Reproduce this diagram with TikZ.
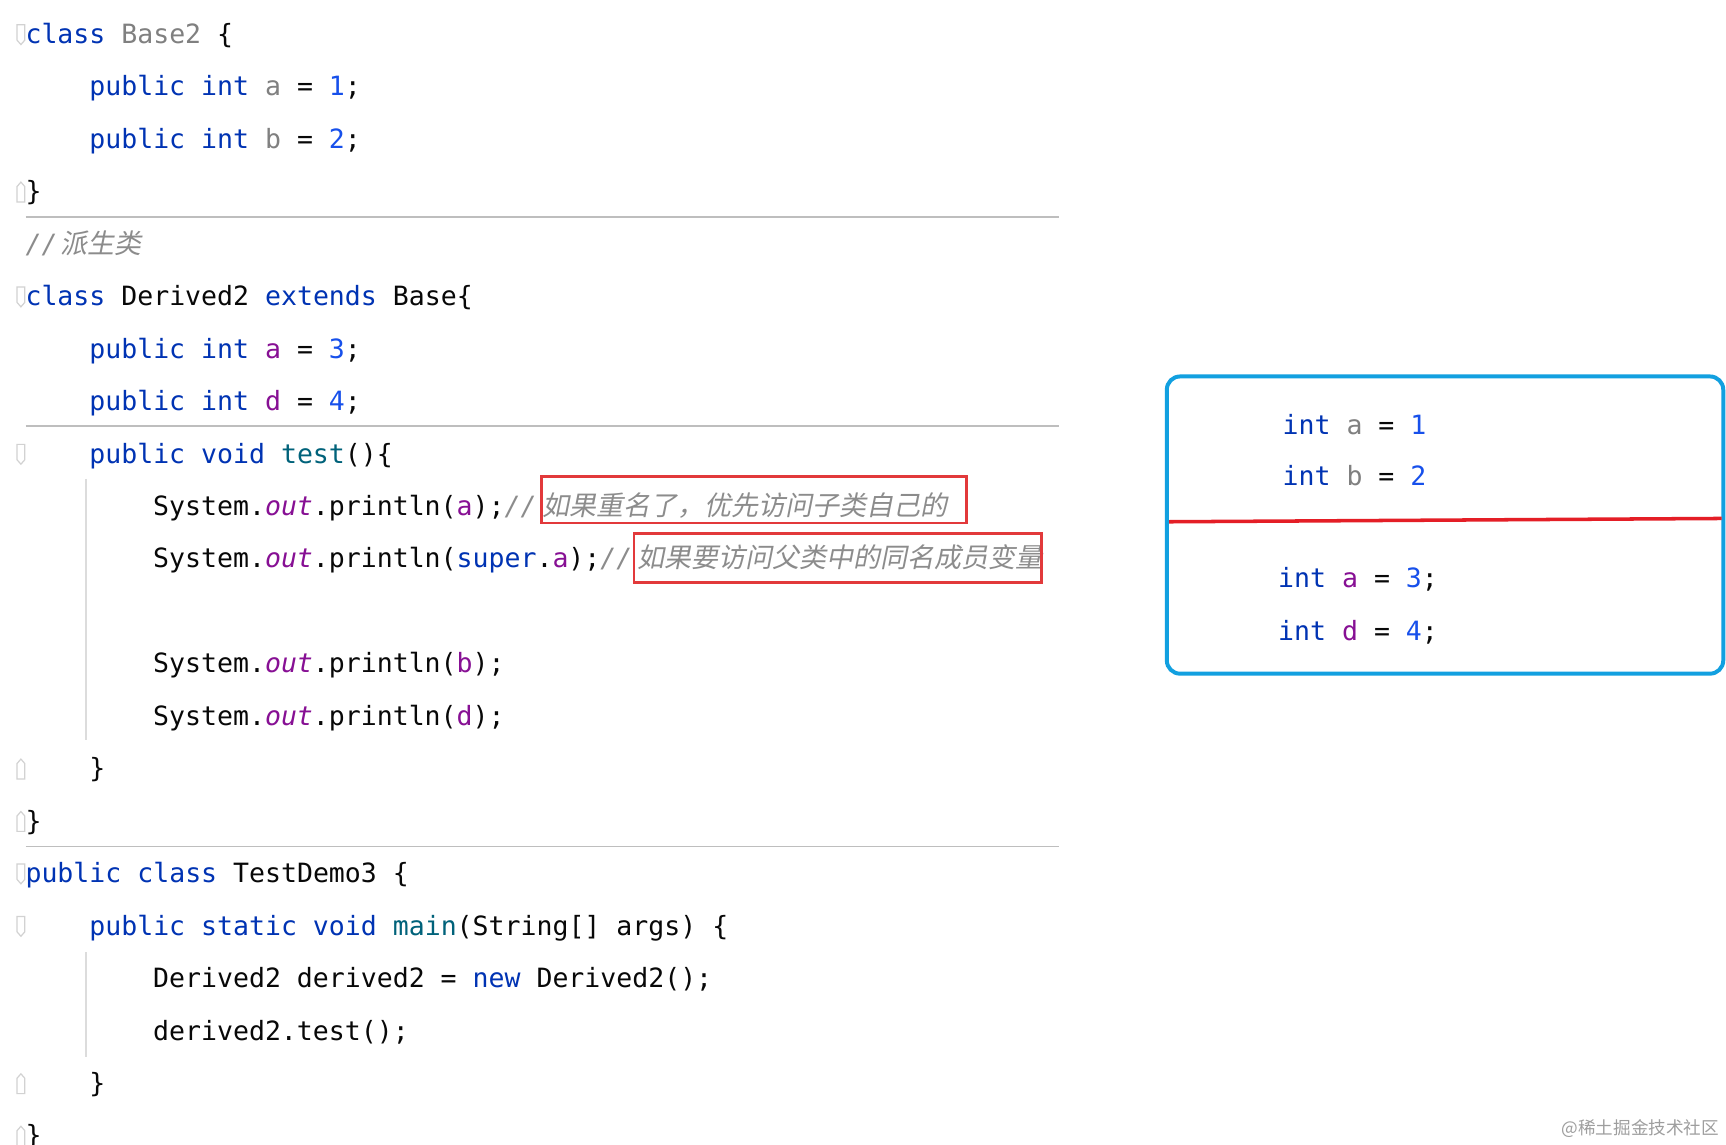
\documentclass[tikz,border=0pt]{standalone}
\usepackage{fontspec}
\newfontfamily\codefont[ItalicFont={DejaVu Sans Mono Oblique}]{DejaVu Sans Mono}
\newfontfamily\cjkit[FakeSlant=0.2]{Noto Sans CJK SC}
\newfontfamily\cjkup{Noto Sans CJK SC}
\definecolor{kwc}{HTML}{0033B3}
\definecolor{numc}{HTML}{1750EB}
\definecolor{fldc}{HTML}{871094}
\definecolor{unuc}{HTML}{808080}
\definecolor{cmtc}{HTML}{8C8C8C}
\definecolor{mthc}{HTML}{00627A}
\definecolor{txtc}{HTML}{080808}
\definecolor{sepc}{HTML}{BEBEBE}
\definecolor{guidec}{HTML}{DCDCDC}
\definecolor{foldc}{HTML}{D2D2D2}
\definecolor{boxred}{HTML}{E2393B}
\definecolor{linered}{HTML}{E41E26}
\definecolor{boxblue}{HTML}{12A0E0}
\definecolor{wmc}{HTML}{9E9E9E}
\newcommand{\Kw}[1]{\textcolor{kwc}{#1}}
\newcommand{\Nm}[1]{\textcolor{numc}{#1}}
\newcommand{\Fd}[1]{\textcolor{fldc}{#1}}
\newcommand{\Un}[1]{\textcolor{unuc}{#1}}
\newcommand{\Cm}[1]{{\color{cmtc}\itshape #1}}
\newcommand{\Mt}[1]{\textcolor{mthc}{#1}}
\tikzset{
  code/.style={inner sep=0pt, anchor=base west, text=txtc,
    font=\codefont\fontsize{24.1}{28}\selectfont},
  cmt/.style={inner sep=0pt, anchor=base west, text=cmtc,
    font=\cjkit\fontsize{24.5}{28}\selectfont},
  sepline/.style={draw=sepc, line width=1.8pt},
  guide/.style={draw=guidec, line width=1.2pt},
  foldline/.style={draw=foldc, line width=1.1pt},
  redbox/.style={draw=boxred, line width=2.4pt},
  foldS/.pic={\draw[foldline] (-3.5,9) -- (3.5,9) -- (3.5,-5) -- (0,-9) -- (-3.5,-5) -- cycle;},
  foldE/.pic={\draw[foldline] (-3.5,-9) -- (3.5,-9) -- (3.5,5) -- (0,9) -- (-3.5,5) -- cycle;}
}
\begin{document}
\begin{tikzpicture}[x=1pt,y=1pt]
\fill[white] (0,0) rectangle (1568,-1040);
\useasboundingbox (0,0) rectangle (1568,-1040);

% separators
\draw[sepline] (23.5,-197) -- (962,-197);
\draw[sepline] (23.5,-387) -- (962,-387);
\draw[sepline] (23.5,-769) -- (962,-769);

% indent guides
\draw[guide] (78,-435) -- (78,-672);
\draw[guide] (78,-865) -- (78,-960);

% fold markers (centre = baseline - 8)
\pic at (19,-31.5) {foldS};
\pic at (19,-174.45) {foldE};
\pic at (19,-269.75) {foldS};
\pic at (19,-412.7) {foldS};
\pic at (19,-698.6) {foldE};
\pic at (19,-746.25) {foldE};
\pic at (19,-793.9) {foldS};
\pic at (19,-841.55) {foldS};
\pic at (19,-984.5) {foldE};
\pic at (19,-1032.15) {foldE};

% code lines
\node[code] (l1) at (23,-39.5) {\Kw{class} \Un{Base2} \{};
\node[code] (l2) at (81,-87.15) {\Kw{public} \Kw{int} \Un{a} = \Nm{1};};
\node[code] (l3) at (81,-134.8) {\Kw{public} \Kw{int} \Un{b} = \Nm{2};};
\node[code] (l4) at (23,-182.45) {\}};
\node[code] (l5) at (23,-230.1) {\Cm{//}};
\node[cmt] (c5) at (55,-230.1) {派生类};
\node[code] (l6) at (23,-277.75) {\Kw{class} Derived2 \Kw{extends} Base\{};
\node[code] (l7) at (81,-325.4) {\Kw{public} \Kw{int} \Fd{a} = \Nm{3};};
\node[code] (l8) at (81,-373.05) {\Kw{public} \Kw{int} \Fd{d} = \Nm{4};};
\node[code] (l9) at (81,-420.7) {\Kw{public} \Kw{void} \Mt{test}()\{};
\node[code] (l10) at (139,-468.35) {System.\Fd{\itshape out}.println(\Fd{a});\Cm{//}};
\node[cmt] (c10) at (493,-468.35) {如果重名了，优先访问子类自己的};
\node[code] (l11) at (139,-516) {System.\Fd{\itshape out}.println(\Kw{super}.\Fd{a});\Cm{//}};
\node[cmt] (c11) at (579,-516) {如果要访问父类中的同名成员变量};
\node[code] (l13) at (139,-611.3) {System.\Fd{\itshape out}.println(\Fd{b});};
\node[code] (l14) at (139,-658.95) {System.\Fd{\itshape out}.println(\Fd{d});};
\node[code] (l15) at (81,-706.6) {\}};
\node[code] (l16) at (23,-754.25) {\}};
\node[code] (l17) at (23,-801.9) {\Kw{public} \Kw{class} TestDemo3 \{};
\node[code] (l18) at (81,-849.55) {\Kw{public} \Kw{static} \Kw{void} \Mt{main}(String[] args) \{};
\node[code] (l19) at (139,-897.2) {Derived2 derived2 = \Kw{new} Derived2();};
\node[code] (l20) at (139,-944.85) {derived2.test();};
\node[code] (l21) at (81,-992.5) {\}};
\node[code] (l22) at (23,-1040.15) {\}};

% red boxes around comments
\draw[redbox] (491.7,-433) rectangle (878,-475);
\draw[redbox] (576,-484.5) rectangle (946,-529.3);

% memory box
\draw[draw=boxblue, line width=3.6pt, rounded corners=12pt] (1060,-342) rectangle (1565.5,-612);
\draw[draw=linered, line width=3.2pt] (1062,-474) -- (1564,-471);
\node[code] (m1) at (1165,-394.5) {\Kw{int} \Un{a} = \Nm{1}};
\node[code] (m2) at (1165,-441.5) {\Kw{int} \Un{b} = \Nm{2}};
\node[code] (m3) at (1161,-534) {\Kw{int} \Fd{a} = \Nm{3};};
\node[code] (m4) at (1161,-581.5) {\Kw{int} \Fd{d} = \Nm{4};};

% watermark
\node[inner sep=0pt, anchor=base east, text=wmc, font=\cjkup\fontsize{16}{18}\selectfont] (wm) at (1562,-1031) {@稀土掘金技术社区};
\end{tikzpicture}
\end{document}
